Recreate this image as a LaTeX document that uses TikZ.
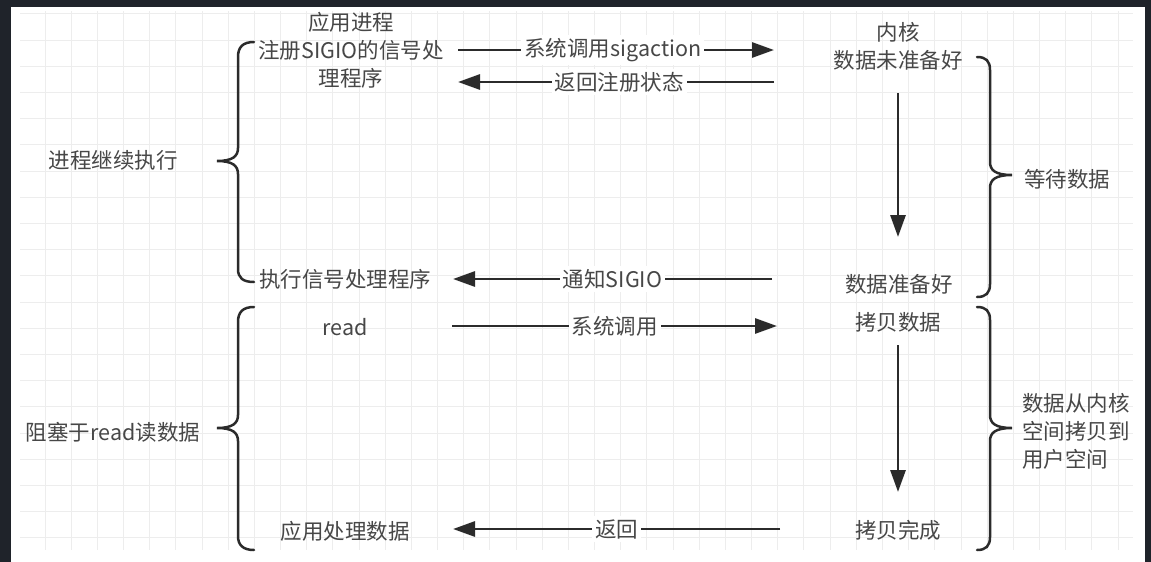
\documentclass[tikz,border=0pt]{standalone}
\usepackage{fontspec}
\setmainfont{Noto Sans CJK SC}
\usetikzlibrary{arrows.meta}
\definecolor{frame}{HTML}{1F232A}
\definecolor{gridc}{HTML}{EDEDED}
\definecolor{txt}{HTML}{474747}
\definecolor{ink}{HTML}{2B2B2B}
\begin{document}
\begin{tikzpicture}[x=1pt,y=-1pt,
  lbl/.style={text=txt,font=\fontsize{21.5}{28}\selectfont,inner sep=1pt},
  onlbl/.style={lbl,fill=white,inner sep=3pt},
  flow/.style={draw=ink,line width=2.9pt,-{Triangle[length=22pt,width=15pt]}},
  bracepath/.style={draw=ink,line width=2.5pt,line cap=round}]
\useasboundingbox (0,0) rectangle (1151,562);
\fill[frame] (0,0) rectangle (1151,562);
\fill[white] (11,7) rectangle (1145,562);
% grid
\foreach \k in {0,...,41}{\draw[gridc,line width=0.9pt] ({45+26.17*\k},11) -- ({45+26.17*\k},550);}
\foreach \k in {0,...,19}{\draw[gridc,line width=0.9pt] (20,{40+26.2*\k}) -- (1133,{40+26.2*\k});}
\draw[gridc,line width=0.9pt] (20,13.8) -- (1133,13.8);

% text nodes
\node[lbl,align=center] (app) at (351,50) {应用进程\\注册SIGIO的信号处\\理程序};
\node[lbl,align=center] (kern) at (898,46) {内核\\数据未准备好};
\node[lbl] (ready) at (899,284) {数据准备好};
\node[lbl] (exec) at (345,279) {执行信号处理程序};
\node[lbl] (readn) at (345,327) {read};
\node[lbl] (copy) at (898,322) {拷贝数据};
\node[lbl] (done) at (898,530) {拷贝完成};
\node[lbl] (apph) at (345,531) {应用处理数据};
\node[lbl] (cont) at (113,160) {进程继续执行};
\node[lbl] (blk) at (113,432) {阻塞于read读数据};
\node[lbl] (wait) at (1067,179) {等待数据};
\node[lbl,align=left,anchor=west] (cspace) at (1021,431) {数据从内核\\空间拷贝到\\用户空间};

% connector end points
\coordinate (a1s) at (458,50);  \coordinate (a1e) at (774,50);
\coordinate (a2s) at (774,82);  \coordinate (a2e) at (458,82);
\coordinate (a3s) at (772,279); \coordinate (a3e) at (453,279);
\coordinate (a4s) at (452,326); \coordinate (a4e) at (777,326);
\coordinate (a5s) at (780,529); \coordinate (a5e) at (453,529);
\coordinate (d1s) at (898,93);  \coordinate (d1e) at (898,237);
\coordinate (d2s) at (898,345); \coordinate (d2e) at (898,492);

\draw[flow] (a1s) -- (a1e) node[onlbl,pos=0.49] (l1) {系统调用sigaction};
\draw[flow] (a2s) -- (a2e) node[onlbl,pos=0.49] (l2) {返回注册状态};
\draw[flow] (a3s) -- (a3e) node[onlbl,pos=0.5] (l3) {通知SIGIO};
\draw[flow] (a4s) -- (a4e) node[onlbl,pos=0.5] (l4) {系统调用};
\draw[flow] (a5s) -- (a5e) node[onlbl,pos=0.5] (l5) {返回};
\draw[flow] (d1s) -- (d1e);
\draw[flow] (d2s) -- (d2e);

% braces
\draw[bracepath] (254,42) .. controls (243,42) and (238,47) .. (238,57) -- (238,148)
  .. controls (238,156) and (233,161) .. (217,161)
  .. controls (233,161) and (238,166) .. (238,174) -- (238,269)
  .. controls (238,278) and (243,282) .. (254,282);
\draw[bracepath] (254,307) .. controls (243,307) and (238,312) .. (238,322) -- (238,415)
  .. controls (238,423) and (233,428) .. (217,428)
  .. controls (233,428) and (238,433) .. (238,441) -- (238,536)
  .. controls (238,545) and (243,550) .. (254,550);
\draw[bracepath] (977,57) .. controls (986,57) and (990,61) .. (990,70) -- (990,162)
  .. controls (990,170) and (995,175) .. (1012,175)
  .. controls (995,175) and (990,180) .. (990,188) -- (990,284)
  .. controls (990,293) and (986,297) .. (977,297);
\draw[bracepath] (977,307) .. controls (986,307) and (990,311) .. (990,320) -- (990,415)
  .. controls (990,423) and (995,428) .. (1012,428)
  .. controls (995,428) and (990,433) .. (990,441) -- (990,537)
  .. controls (990,546) and (986,550) .. (977,550);
\end{tikzpicture}
\end{document}
